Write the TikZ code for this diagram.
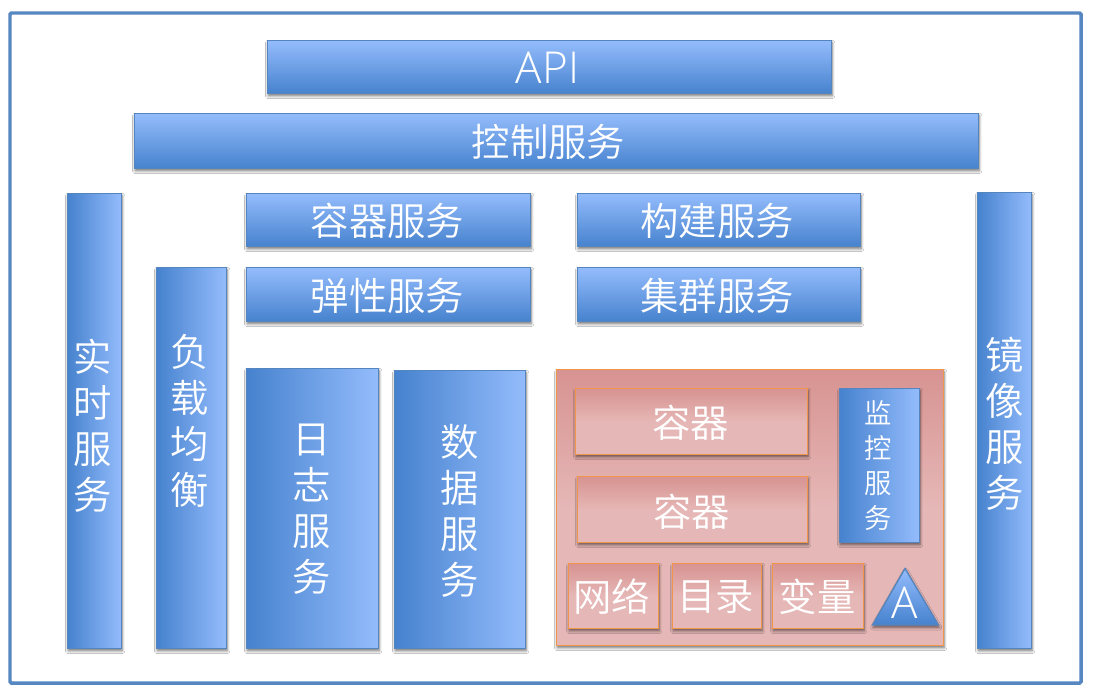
\documentclass[tikz,border=0pt]{standalone}
\usepackage{fontspec}
\setmainfont{Noto Sans CJK SC DemiLight}
\newfontfamily\latinface{Open Sans Light}
\usetikzlibrary{shadows.blur,calc}
\definecolor{blueedge}{HTML}{5585BE}
\definecolor{bluedeep}{HTML}{4682CE}
\definecolor{bluepale}{HTML}{94BCFC}
\definecolor{frameblue}{HTML}{4F81BD}
\definecolor{pinkdeep}{HTML}{D79391}
\definecolor{pinkpale}{HTML}{E5B7B6}
\definecolor{orangeedge}{HTML}{F0954A}
\tikzset{
  softshadow/.style={blur shadow={shadow xshift=0.5pt,shadow yshift=-1.8pt,shadow blur radius=2pt,shadow opacity=55,shadow blur steps=6}},
  tile/.style={rectangle,inner sep=0pt,softshadow},
  bluehoriz/.style={tile,draw=blueedge,line width=1pt,top color=bluepale,bottom color=bluedeep},
  bluevert/.style={tile,draw=blueedge,line width=1pt,left color=bluedeep,right color=bluepale},
  pinkbox/.style={tile,draw=orangeedge,line width=1.4pt,shading=axis,
    top color=pinkdeep,bottom color=pinkpale,middle color=pinkpale},
  caption/.style={inner sep=0pt,align=center,text=white},
  bigtext/.style={caption,font=\fontsize{28.8}{34.5}\selectfont},
  smalltext/.style={caption,font=\fontsize{20.5}{26.3}\selectfont},
}
% Box from its pixel corners with a caption offset from its centre:
% [offset] name, x1, y1, x2, y2, box style, caption style, text
\newcommand{\tilebox}[9][(0,0)]{%
  \node[#7,minimum width={(#5-#3-1)*0.75pt},minimum height={(#6-#4-1)*0.75pt}]
    (#2) at ({(#3+#5)/2},{(#4+#6)/2}) {};
  \tileboxtext{#2}{#1}{#8}{#9}}
\newcommand{\tileboxtext}[4]{\node[#3] (#1-text) at ($(#1)+#2$) {#4};}
\begin{document}
\begin{tikzpicture}[x=0.75pt,y=-0.75pt]
\useasboundingbox (0,0) rectangle (1094,694);
\fill[white] (0,0) rectangle (1094,694);
\draw[frameblue,line width=2.6pt,rounded corners=1pt,opacity=.95] (10,13) rectangle (1081,683);

\tilebox[(-2,1)]{api}{267}{40}{832}{94}{bluehoriz}{bigtext}{\fontsize{33}{34}\selectfont\latinface API}
\tilebox[(-8,1)]{control}{134}{113}{979}{169}{bluehoriz}{bigtext}{控制服务}
\tilebox[(-2,5)]{realtime}{67}{193}{122}{649}{bluevert}{bigtext}{实\\时\\服\\务}
\tilebox[(-2,-37)]{balance}{156}{267}{227}{649}{bluevert}{bigtext}{负\\载\\均\\衡}
\tilebox[(-1,1)]{container}{246}{193}{531}{247}{bluehoriz}{bigtext}{容器服务}
\tilebox[(-2,1)]{build}{577}{193}{861}{247}{bluehoriz}{bigtext}{构建服务}
\tilebox[(-1,1)]{elastic}{246}{267}{531}{322}{bluehoriz}{bigtext}{弹性服务}
\tilebox[(-2,1)]{cluster}{577}{267}{861}{322}{bluehoriz}{bigtext}{集群服务}
\tilebox[(-1,1)]{logs}{246}{368}{379}{649}{bluevert}{bigtext}{日\\志\\服\\务}
\tilebox[(0,1)]{data}{394}{370}{526}{649}{bluevert}{bigtext}{数\\据\\服\\务}
\tilebox[(0,3)]{mirror}{977}{192}{1032}{649}{bluevert}{bigtext}{镜\\像\\服\\务}

% Application panel and its contents
\tilebox{panel}{556}{369}{944}{646}{pinkbox}{caption}{}
\tilebox[(-1,1)]{boxa}{575}{388}{808}{455}{pinkbox}{bigtext}{容器}
\tilebox[(-1,2)]{boxb}{577}{476}{808}{543}{pinkbox}{bigtext}{容器}
\tilebox[(-1,0)]{monitor}{839}{388}{920}{543}{bluevert}{smalltext}{监\\控\\服\\务}
\tilebox[(-2,1)]{net}{568}{563}{659}{629}{pinkbox}{bigtext}{网络}
\tilebox[(-1.5,1)]{dir}{672}{563}{762}{629}{pinkbox}{bigtext}{目录}
\tilebox[(-1,1)]{vars}{772}{563}{864}{629}{pinkbox}{bigtext}{变量}
\shadedraw[draw=blueedge,line width=1pt,top color=bluepale,bottom color=bluedeep,softshadow]
  (905,568.5) -- (938.5,625) -- (872.5,625) -- cycle;
\node[caption,font=\fontsize{33}{34}\selectfont\latinface] (appmark) at (905,603) {A};
\end{tikzpicture}
\end{document}
